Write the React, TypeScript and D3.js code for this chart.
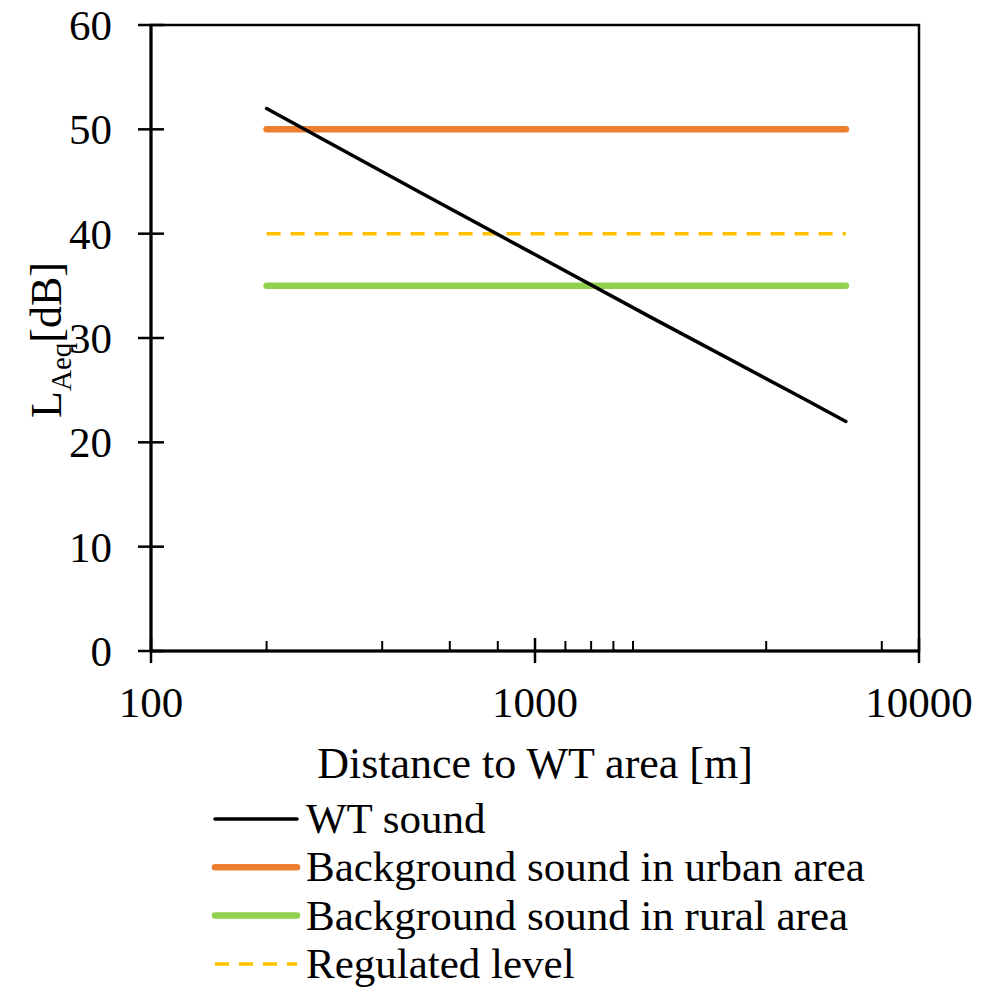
import React from "react";
import * as d3 from "d3";

const distances = [200, 500, 1000, 2000, 5000, 6450];
const wtSound = [52, 44, 38, 32, 24.2, 22];
const bgX = [200, 6450];
const urbanLevel = [50, 50];
const ruralLevel = [35, 35];
const regulatedLevel = [40, 40];
const yTicks = [0, 10, 20, 30, 40, 50, 60];
const xMajorTicks = [100, 1000, 10000];
const xMinorTicks = [200, 400, 600, 800, 1200, 1400, 1600, 1800, 4000, 8000];
const legendLabels = [
  "WT sound",
  "Background sound in urban area",
  "Background sound in rural area",
  "Regulated level",
];

const W = 993;
const H = 989;
const FONT = "'Liberation Serif', 'Times New Roman', serif";

export default function App() {
  const x = d3.scaleLog().domain([100, 10000]).range([151, 919]);
  const y = d3.scaleLinear().domain([0, 60]).range([651, 25]);
  const line = d3
    .line<[number, number]>()
    .x((d) => x(d[0]))
    .y((d) => y(d[1]));

  const series = [
    { data: distances.map((d, i) => [d, wtSound[i]] as [number, number]), color: "#000000", width: 3.5, dash: "" },
    { data: bgX.map((d, i) => [d, urbanLevel[i]] as [number, number]), color: "#ED7D31", width: 6.5, dash: "" },
    { data: bgX.map((d, i) => [d, ruralLevel[i]] as [number, number]), color: "#92D050", width: 6.5, dash: "" },
    { data: bgX.map((d, i) => [d, regulatedLevel[i]] as [number, number]), color: "#FFC000", width: 3.5, dash: "14,10" },
  ];
  const drawOrder = [3, 2, 1, 0];

  const [x0, x1] = x.range();
  const [yb, yt] = y.range();

  return (
    <svg
      width={W}
      height={H}
      style={{ position: "absolute", left: 0, top: 0, background: "#fff" }}
      fontFamily={FONT}
    >
      <rect x={0} y={0} width={W} height={H} fill="#fff" />
      <rect x={x0} y={yt} width={x1 - x0} height={yb - yt} fill="none" stroke="#000" strokeWidth={2.5} />
      <line x1={x0} x2={x1} y1={yb} y2={yb} stroke="#000" strokeWidth={3} />
      <line x1={x0} x2={x0} y1={yt} y2={yb} stroke="#000" strokeWidth={3} />
      {yTicks.map((t) => (
        <g key={"y" + t}>
          <line x1={x0 - 13} x2={x0 + 13} y1={y(t)} y2={y(t)} stroke="#000" strokeWidth={2.5} />
          <text x={x0 - 39} y={y(t)} dy="0.35em" textAnchor="end" fontSize={43}>
            {t}
          </text>
        </g>
      ))}
      {xMajorTicks.map((t) => (
        <g key={"x" + t}>
          <line x1={x(t)} x2={x(t)} y1={yb - 13} y2={yb + 12} stroke="#000" strokeWidth={2.5} />
          <text x={x(t)} y={yb + 66} textAnchor="middle" fontSize={43}>
            {t}
          </text>
        </g>
      ))}
      {xMinorTicks.map((t) => (
        <line key={"m" + t} x1={x(t)} x2={x(t)} y1={yb - 10} y2={yb} stroke="#000" strokeWidth={2} />
      ))}
      {drawOrder.map((i) => {
        const s = series[i];
        return (
          <path
            key={"s" + i}
            d={line(s.data) || ""}
            fill="none"
            stroke={s.color}
            strokeWidth={s.width}
            strokeLinecap={s.dash ? "butt" : "round"}
            strokeLinejoin="round"
            strokeDasharray={s.dash || undefined}
          />
        );
      })}
      <text x={(x0 + x1) / 2} y={778} textAnchor="middle" fontSize={44}>
        Distance to WT area [m]
      </text>
      <text transform="translate(61,340) rotate(-90)" textAnchor="middle" fontSize={44}>
        L<tspan fontSize={29} dy={10}>Aeq</tspan>
        <tspan dy={-10}>[dB]</tspan>
      </text>
      {series.map((s, i) => {
        const cy = 819 + i * 48.3;
        return (
          <g key={"l" + i}>
            <line
              x1={215}
              x2={297}
              y1={cy}
              y2={cy}
              stroke={s.color}
              strokeWidth={s.width}
              strokeLinecap={s.dash ? "butt" : "round"}
              strokeDasharray={s.dash || undefined}
            />
            <text x={306} y={cy} dy="0.33em" fontSize={43}>
              {legendLabels[i]}
            </text>
          </g>
        );
      })}
    </svg>
  );
}
